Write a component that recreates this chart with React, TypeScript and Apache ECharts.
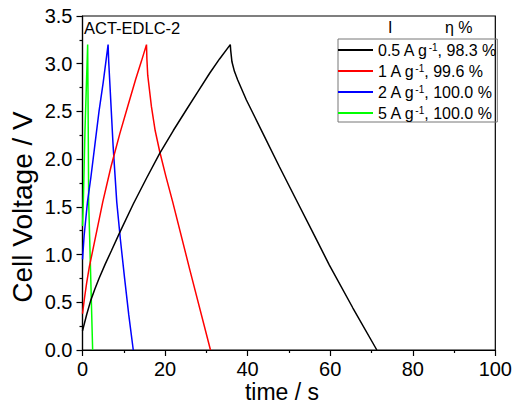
import React, { useEffect, useRef } from "react";
import * as echarts from "echarts";

// Galvanostatic charge/discharge curves: [time (s), cell voltage (V)]
const curve05: [number, number][] = [
  [0, 0.2], [1, 0.37], [2, 0.52], [3, 0.64], [4, 0.75], [5.5, 0.9], [7, 1.04], [9, 1.23],
  [12.3, 1.53], [15.5, 1.8], [18.7, 2.06], [22, 2.3], [25.2, 2.52], [28, 2.71],
  [30.8, 2.9], [33.2, 3.05], [35.8, 3.2], [35.9, 3.14], [36.2, 3.02], [36.8, 2.92],
  [37.6, 2.83], [39.7, 2.62], [43.7, 2.27], [47.7, 1.92], [51.7, 1.58], [55.7, 1.24],
  [59.8, 0.89], [65.5, 0.44], [71.3, 0],
];
const curve1: [number, number][] = [
  [0, 0.38], [0.5, 0.55], [1, 0.7], [1.65, 0.87], [2.85, 1.12], [4.9, 1.55], [6.9, 1.92],
  [9.06, 2.27], [11, 2.56], [12.9, 2.84], [14.3, 3.03], [15.5, 3.2], [15.6, 3.05],
  [15.8, 2.88], [16.7, 2.55], [17.6, 2.3], [18.7, 2.08], [20.2, 1.82], [21.8, 1.56],
  [26, 0.84], [31, 0],
];
const curve2: [number, number][] = [
  [0, 0.95], [0.4, 1.2], [1.2, 1.55], [2, 1.8], [3, 2.15], [4, 2.5], [5, 2.8], [6.2, 3.2],
  [6.35, 3.02], [6.8, 2.65], [7.4, 2.15], [8.3, 1.55], [9.2, 1.15], [10.2, 0.75],
  [11.2, 0.37], [12.3, 0],
];
const curve5: [number, number][] = [
  [0, 1.3], [0.2, 1.55], [0.6, 2.3], [1.25, 3.2], [1.35, 2.6], [1.5, 1.55], [2.0, 0.75],
  [2.46, 0],
];

const currents = ["0.5", "1", "2", "5"];
const efficiencies = ["98.3", "99.6", "100.0", "100.0"];
const colors = ["#000000", "#ff0000", "#0000ff", "#00ff00"];
const curves = [curve05, curve1, curve2, curve5];
const seriesNames = currents.map((c, i) => `${c} A g-1, ${efficiencies[i]} %`);

const FONT = "'Liberation Sans', Arial, sans-serif";

export default function App() {
  const ref = useRef<HTMLDivElement>(null);
  useEffect(() => {
    if (!ref.current) return;
    const chart = echarts.init(ref.current, undefined, { renderer: "svg" });
    chart.setOption({
      animation: false,
      backgroundColor: "#ffffff",
      grid: {
        left: 82.5,
        right: 19,
        top: 16,
        bottom: 59,
        show: true,
        borderColor: "#000",
        borderWidth: 1.2,
        backgroundColor: "transparent",
      },
      xAxis: {
        type: "value",
        min: 0,
        max: 100,
        interval: 20,
        axisLine: { show: true, lineStyle: { color: "#000", width: 1.2 } },
        axisTick: { show: true, inside: false, length: 6, lineStyle: { color: "#000", width: 1.2 } },
        minorTick: { show: true, splitNumber: 2, length: 3, lineStyle: { color: "#000", width: 1.2 } },
        splitLine: { show: false },
        axisLabel: { fontSize: 20, color: "#000", margin: 9, fontFamily: FONT },
      },
      yAxis: {
        type: "value",
        min: 0,
        max: 3.5,
        interval: 0.5,
        axisLine: { show: true, lineStyle: { color: "#000", width: 1.2 } },
        axisTick: { show: true, inside: false, length: 6, lineStyle: { color: "#000", width: 1.2 } },
        minorTick: { show: true, splitNumber: 2, length: 3, lineStyle: { color: "#000", width: 1.2 } },
        splitLine: { show: false },
        axisLabel: {
          fontSize: 20,
          color: "#000",
          margin: 10,
          fontFamily: FONT,
          formatter: (v: number) => v.toFixed(1),
        },
      },
      legend: {
        left: 338,
        top: 39,
        orient: "vertical",
        padding: [3, 1, 1, 0],
        itemGap: 5,
        itemWidth: 35,
        itemHeight: 2,
        icon: "rect",
        borderColor: "#777",
        borderWidth: 1,
        selectedMode: false,
        data: seriesNames,
        formatter: (name: string) => {
          const i = seriesNames.indexOf(name);
          return `{n|${currents[i]} A g}{s|-1}{n|, ${efficiencies[i]} %}`;
        },
        textStyle: {
          color: "#000",
          fontFamily: FONT,
          fontSize: 16,
          rich: {
            n: { fontSize: 16, lineHeight: 16, fontFamily: FONT, color: "#000" },
            s: { fontSize: 10, lineHeight: 10, verticalAlign: "top", fontFamily: FONT, color: "#000" },
          },
        },
      },
      graphic: [
        {
          type: "text",
          left: 84,
          top: 19,
          style: { text: "ACT-EDLC-2", font: `16.5px ${FONT}`, fill: "#000" },
        },
        {
          type: "text",
          left: 388,
          top: 19,
          style: { text: "I", font: `16px ${FONT}`, fill: "#000" },
        },
        {
          type: "text",
          left: 445,
          top: 19,
          style: { text: "η %", font: `16px ${FONT}`, fill: "#000" },
        },
        {
          type: "text",
          x: 22,
          y: 207,
          rotation: Math.PI / 2,
          style: {
            text: "Cell Voltage / V",
            font: `28px ${FONT}`,
            fill: "#000",
            textAlign: "center",
            textVerticalAlign: "middle",
          },
        },
        {
          type: "text",
          x: 282,
          y: 392,
          style: {
            text: "time / s",
            font: `23px ${FONT}`,
            fill: "#000",
            textAlign: "center",
            textVerticalAlign: "middle",
          },
        },
      ],
      series: curves.map((data, i) => ({
        name: seriesNames[i],
        type: "line",
        data,
        symbol: "none",
        showSymbol: false,
        smooth: false,
        lineStyle: { color: colors[i], width: 1.5 },
        itemStyle: { color: colors[i] },
        z: 10 - i,
      })),
    });
    return () => chart.dispose();
  }, []);
  return (
    <div
      ref={ref}
      style={{ position: "fixed", left: 0, top: 0, width: 515, height: 409, background: "#fff" }}
    />
  );
}
